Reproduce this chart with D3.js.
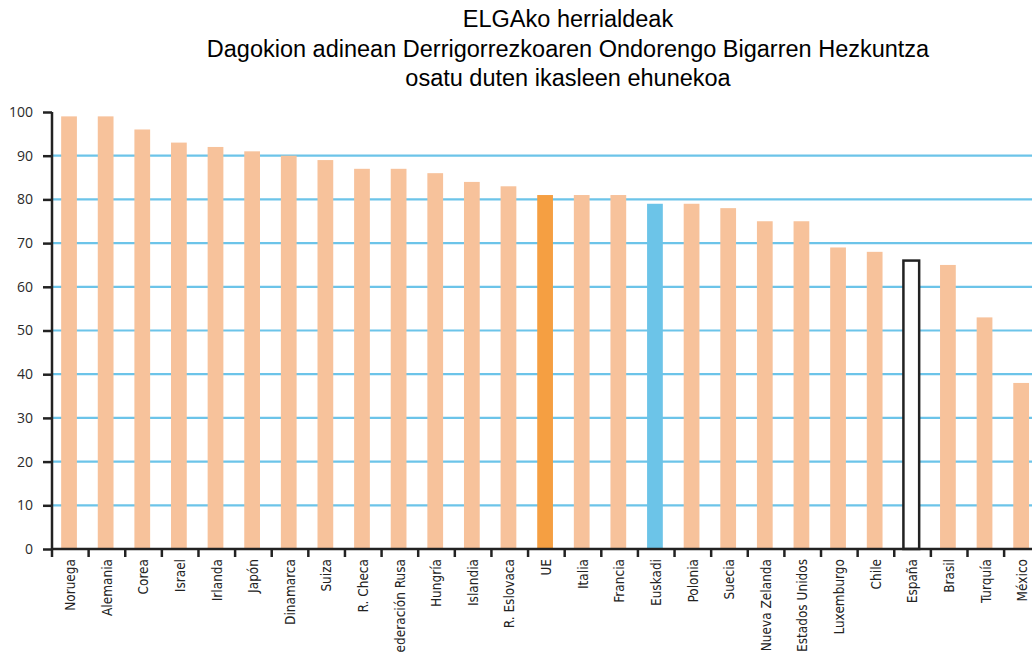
<!DOCTYPE html>
<html>
<head>
<meta charset="utf-8">
<script src="https://cdn.jsdelivr.net/npm/d3@7/dist/d3.min.js"></script>
<style>
body { margin: 0; background: #fff; }
svg { display: block; }
.title { font-family: "Liberation Sans", Arial, sans-serif; font-size: 23.5px; fill: #000; }
.axis--y text { font-family: "Open Sans", "Liberation Sans", sans-serif; font-size: 14px; fill: #2a2a2a; }
.axis--x text { font-family: "DejaVu Sans", sans-serif; font-stretch: condensed; font-size: 13.5px; fill: #222; }
.grid line { stroke: #6cc4e9; stroke-width: 2.2; }
</style>
</head>
<body>
<svg id="chart" width="1032" height="652"></svg>
<script>
var countries = ["Noruega", "Alemania", "Corea", "Israel", "Irlanda", "Japón", "Dinamarca", "Suiza",
  "R. Checa", "Federación Rusa", "Hungría", "Islandia", "R. Eslovaca", "UE", "Italia", "Francia",
  "Euskadi", "Polonia", "Suecia", "Nueva Zelanda", "Estados Unidos", "Luxemburgo", "Chile",
  "España", "Brasil", "Turquía", "México"];
var values = [99, 99, 96, 93, 92, 91, 90, 89, 87, 87, 86, 84, 83, 81, 81, 81,
  79, 79, 78, 75, 75, 69, 68, 66, 65, 53, 38];
var yTicks = [0, 10, 20, 30, 40, 50, 60, 70, 80, 90, 100];
var titleLines = ["ELGAko herrialdeak",
  "Dagokion adinean Derrigorrezkoaren Ondorengo Bigarren Hezkuntza",
  "osatu duten ikasleen ehunekoa"];

var svg = d3.select("#chart"),
    margin = {top: 112, left: 52},
    height = 437,
    step = 36.62,
    width = step * countries.length,
    g = svg.append("g").attr("transform", "translate(" + margin.left + "," + margin.top + ")");

var data = countries.map(function(c, i) { return {name: c, value: values[i]}; });

var x = d3.scaleBand()
    .domain(countries)
    .range([0, width])
    .padding(0);

var y = d3.scaleLinear()
    .domain([0, 100])
    .range([height, 0]);

// title
svg.selectAll(".title")
  .data(titleLines)
  .enter().append("text")
    .attr("class", "title")
    .attr("x", 568)
    .attr("y", function(d, i) { return 27 + i * 29.5; })
    .attr("text-anchor", "middle")
    .text(function(d) { return d; });

// horizontal grid
g.append("g")
    .attr("class", "grid")
  .selectAll("line")
  .data(yTicks.filter(function(t) { return t > 0 && t < 100; }))
  .enter().append("line")
    .attr("x1", 0)
    .attr("x2", 1032 - margin.left)
    .attr("y1", function(d) { return y(d); })
    .attr("y2", function(d) { return y(d); });

function barFill(d) {
  if (d.name === "UE") return "#f59f42";
  if (d.name === "Euskadi") return "#6cc4e8";
  if (d.name === "España") return "#fff";
  return "#f7c29b";
}

g.selectAll(".bar")
  .data(data)
  .enter().append("rect")
    .attr("class", "bar")
    .attr("x", function(d) { return x(d.name) + x.bandwidth() * 0.25; })
    .attr("y", function(d) { return y(d.value); })
    .attr("width", x.bandwidth() * 0.43)
    .attr("height", function(d) { return height - y(d.value); })
    .attr("fill", barFill)
    .attr("stroke", function(d) { return d.name === "España" ? "#222" : "none"; })
    .attr("stroke-width", 2.5);

// x axis with ticks at band edges
var xAxis = g.append("g")
    .attr("class", "axis axis--x")
    .attr("transform", "translate(0," + height + ")");

xAxis.append("line")
    .attr("x1", 0)
    .attr("x2", 1032 - margin.left)
    .attr("stroke", "#222")
    .attr("stroke-width", 2.5);

xAxis.selectAll(".tick")
  .data(d3.range(countries.length + 1))
  .enter().append("line")
    .attr("class", "tick")
    .attr("x1", function(i) { return i * x.step(); })
    .attr("x2", function(i) { return i * x.step(); })
    .attr("y1", 0)
    .attr("y2", 8)
    .attr("stroke", "#222")
    .attr("stroke-width", 2.5);

xAxis.selectAll("text")
  .data(countries)
  .enter().append("text")
    .attr("transform", function(d) {
      return "translate(" + (x(d) + x.bandwidth() * 0.5) + ",10) rotate(-90)";
    })
    .attr("dy", "0.35em")
    .attr("text-anchor", "end")
    .text(function(d) { return d; });

// y axis
var yAxis = g.append("g")
    .attr("class", "axis axis--y")
    .call(d3.axisLeft(y).tickValues(yTicks).tickSize(9).tickPadding(10));

yAxis.select(".domain")
    .attr("stroke", "#222")
    .attr("stroke-width", 2.5)
    .attr("d", "M0," + (height + 1) + "V0");
yAxis.selectAll(".tick line")
    .attr("stroke", "#222")
    .attr("stroke-width", 2.5);
</script>
</body>
</html>
